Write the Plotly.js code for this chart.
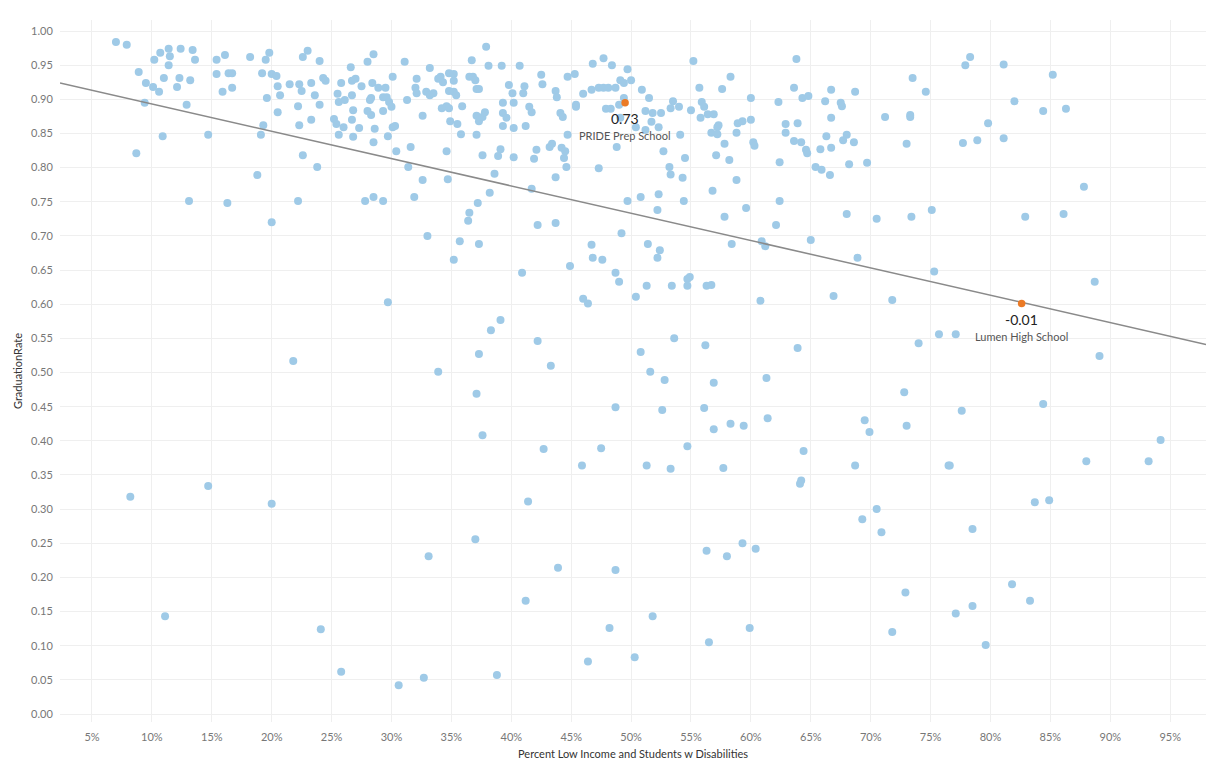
<!DOCTYPE html>
<html><head><meta charset="utf-8">
<script src="https://cdn.plot.ly/plotly-3.0.1.min.js"></script>
<style>html,body{margin:0;padding:0;background:#fff}</style>
</head><body><div id="chart" style="width:1206px;height:761px"></div>
<script>
// Percent low income & students w disabilities (x, in %) and graduation rate (y)
const pctA = [7.0,7.9,10.7,11.4,12.4,13.4,11.5,10.2,13.6,15.4,
16.1,18.2,19.8,19.5,23.0,22.6,24.0,11.4,8.9,15.4,
16.4,16.7,19.2,20.0,20.4,9.5,11.0,12.3,13.2,10.1,
10.6,12.1,15.9,16.7,20.5,21.5,22.3,23.3,24.3,24.5,
25.8,26.6,19.6,20.7,22.5,23.6,25.5,25.6,9.4,12.9,
22.2,24.0,20.5,23.3,22.3,25.2,25.4,10.9,14.7,19.1,
25.6,19.3,8.7,22.6,23.8,18.8,13.1,16.3,22.2,20.0];
const rateA = [.984,.980,.968,.974,.974,.972,.963,.958,.958,.958,
.965,.962,.968,.958,.971,.962,.956,.950,.940,.937,
.938,.938,.938,.937,.934,.924,.931,.931,.928,.918,
.911,.918,.911,.917,.919,.922,.922,.924,.931,.927,
.924,.947,.902,.906,.912,.906,.908,.896,.895,.892,
.890,.892,.881,.870,.862,.871,.864,.846,.848,.848,
.848,.862,.821,.818,.801,.789,.751,.748,.751,.720];

const pctB = [37.9,28.5,28.0,31.1,36.7,33.2,38.1,39.2,40.7,46.8,
47.7,48.4,49.7,30.1,32.1,33.9,34.1,34.3,34.8,35.2,
35.2,36.5,36.8,37.0,42.5,42.6,44.7,45.3,26.7,27.0,
28.4,27.5,28.9,29.5,32.0,32.1,32.9,33.2,33.5,34.8,
35.2,35.4,37.1,37.3,39.8,40.1,41.0,41.1,43.7,43.8,
46.0,46.7,47.3,47.7,48.1,48.7,49.1,49.4,26.1,26.7,
28.3,28.2,29.3,29.6,29.8,30.0,31.3,34.2,34.6,34.8,
35.9,39.3,40.2,41.5,41.7,45.4,45.4,47.9,48.3,49.0,
26.8,28.0,28.3,29.3,32.6,34.9,35.5,37.1,37.3,37.6,
37.8,39.3,39.6,39.3,40.2,41.2,44.1,44.3,26.7,26.0,
27.3,28.6,30.1,30.3,26.8,28.5,29.7,35.8,37.1,44.7,
30.4,31.6,34.6,37.6,39.1,38.9,40.2,42.1,41.9,43.2,
43.4,44.2,44.5,44.4,44.6,48.8,47.3,31.4,32.6,34.7,
38.6,43.7,31.9,38.2,41.7,49.7,27.8,28.5,29.3,37.2,
36.5,36.4,42.2,43.7,33.0,35.7,37.3,46.7];
const rateB = [.977,.966,.955,.955,.957,.946,.949,.949,.949,.952,
.960,.950,.944,.933,.930,.930,.933,.925,.938,.937,
.927,.933,.933,.928,.936,.922,.933,.937,.927,.930,
.924,.919,.917,.917,.917,.909,.911,.906,.909,.912,
.911,.906,.915,.915,.921,.909,.909,.919,.912,.903,
.908,.914,.917,.917,.917,.917,.928,.924,.899,.906,
.902,.899,.903,.903,.896,.889,.899,.887,.890,.887,
.890,.895,.895,.889,.881,.892,.889,.886,.886,.892,
.884,.883,.877,.883,.876,.868,.864,.876,.868,.874,
.881,.880,.873,.861,.858,.861,.880,.874,.870,.859,
.858,.857,.859,.861,.845,.837,.846,.849,.848,.848,
.824,.830,.824,.818,.827,.817,.815,.826,.813,.830,
.835,.829,.824,.814,.801,.830,.799,.801,.782,.783,
.791,.786,.757,.763,.769,.751,.751,.757,.751,.748,
.734,.722,.716,.719,.700,.692,.688,.687];

const pctC = [55.2,63.8,50.0,50.9,51.5,49.4,55.7,57.6,58.3,63.6,
66.7,68.7,60.0,64.3,64.8,66.2,67.5,67.6,62.3,71.2,
53.5,54.0,53.3,55.0,55.9,56.1,56.4,56.9,55.8,51.2,
51.8,52.5,51.7,52.3,50.4,51.2,49.1,57.3,57.2,56.7,
57.2,58.9,59.3,60.0,58.8,54.1,62.9,63.9,62.9,66.7,
66.3,68.0,67.7,68.6,66.7,65.8,63.6,64.2,64.6,64.7,
60.2,60.3,57.8,57.1,58.2,52.7,54.5,65.4,65.9,66.6,
68.2,69.7,62.4,53.2,53.3,54.3,58.8,56.8,52.3,50.8,
54.4,52.2,62.4,59.6,57.8,68.0,70.5,62.1,49.2,51.4,
52.4,58.4,60.9,61.2,65.0];
const rateC = [.956,.959,.928,.914,.902,.902,.917,.915,.933,.917,
.914,.911,.902,.902,.905,.897,.895,.890,.896,.874,
.897,.889,.887,.884,.896,.889,.878,.878,.873,.883,
.880,.880,.867,.859,.859,.855,.873,.862,.859,.851,
.849,.865,.868,.870,.851,.848,.864,.865,.851,.873,
.846,.848,.840,.837,.829,.827,.839,.837,.826,.821,
.837,.832,.835,.818,.811,.824,.814,.801,.797,.789,
.805,.807,.808,.801,.790,.785,.782,.766,.761,.757,
.751,.738,.751,.741,.728,.732,.725,.716,.704,.688,
.679,.688,.692,.685,.694];

const pctD = [78.3,77.9,81.1,85.2,73.5,74.6,82.0,84.4,86.3,73.3,
73.3,79.8,73.0,77.7,78.9,81.1,87.8,73.4,75.1,82.9,
86.1];
const rateD = [.962,.950,.951,.936,.931,.911,.897,.883,.886,.877,
.874,.865,.835,.836,.840,.843,.772,.728,.738,.728,
.732];

const pctE = [21.8,35.2,40.9,44.9,46.8,47.6,48.7,49.0,29.7,46.0,
46.4,39.1,38.3,42.2,37.3,43.3,33.9,37.1,48.7,37.6,
42.7,47.5,45.9,52.2,68.9,51.3,50.4,53.4,54.7,54.9,
54.7,56.3,56.7,60.8,66.9,71.8,53.6,50.8,56.2,63.9,
51.6,52.8,56.9,61.3,72.8,52.6,56.1,56.9,58.3,59.4,
61.4,69.5,69.9,73.0,54.7,51.3,53.3,57.7,64.4,68.7,
64.2,64.1,75.3,88.7,75.7,77.1,74.0,89.1,84.4,77.6,
94.2,88.0,93.2,76.5,76.6];
const rateE = [.517,.665,.646,.656,.668,.665,.646,.633,.603,.608,
.601,.577,.562,.546,.527,.510,.501,.469,.449,.408,
.388,.389,.364,.668,.668,.627,.611,.627,.637,.640,
.627,.627,.628,.605,.612,.606,.550,.530,.540,.536,
.501,.489,.485,.492,.471,.445,.448,.417,.425,.422,
.433,.430,.413,.422,.392,.364,.359,.360,.385,.364,
.342,.337,.648,.633,.556,.556,.543,.524,.454,.444,
.401,.370,.370,.364,.364];

const pctF = [8.2,14.7,20.0,11.1,24.1,25.8,41.4,37.0,33.1,43.9,
48.7,41.2,48.2,46.4,30.6,32.7,38.8,70.5,69.3,70.9,
59.3,56.3,60.4,58.0,72.9,51.8,59.9,71.8,56.5,50.3,
83.7,84.9,78.5,81.8,83.3,78.5,77.1,79.6];
const rateF = [.318,.334,.308,.143,.124,.062,.311,.256,.231,.214,
.211,.166,.126,.077,.042,.053,.057,.300,.285,.266,
.250,.239,.242,.231,.178,.143,.126,.120,.105,.083,
.310,.313,.271,.190,.166,.158,.147,.101];

// Highlighted schools
const highlightSchools = ['PRIDE Prep School', 'Lumen High School'];
const highlightPct = [49.5, 82.6];
const highlightRate = [0.895, 0.601];
const highlightValue = ['0.73', '-0.01'];

const xTicks = [5,10,15,20,25,30,35,40,45,50,55,60,65,70,75,80,85,90,95];
const xRange = [2.33, 97.99];
const yRange = [-0.0117, 1.0161];

const pct = [].concat(pctA, pctB, pctC, pctD, pctE, pctF);
const rate = [].concat(rateA, rateB, rateC, rateD, rateE, rateF);

// Linear trend line (least squares over all schools)
const allX = pct.concat(highlightPct), allY = rate.concat(highlightRate);
const n = allX.length;
const mx = allX.reduce((a,b)=>a+b,0)/n, my = allY.reduce((a,b)=>a+b,0)/n;
let sxy=0, sxx=0;
for (let i=0;i<n;i++){ sxy += (allX[i]-mx)*(allY[i]-my); sxx += (allX[i]-mx)**2; }
const slope = sxy/sxx, intercept = my - slope*mx;
const trendX = xRange.slice();
const trendY = trendX.map(v => intercept + slope*v);

const traces = [
  {type:'scatter', mode:'markers', x:pct, y:rate, hoverinfo:'skip',
   marker:{size:8, color:'#9fcae7', line:{width:0}}},
  {type:'scatter', mode:'lines', x:trendX, y:trendY, hoverinfo:'skip',
   line:{color:'#8a8a8a', width:1.5}},
  {type:'scatter', mode:'markers', x:highlightPct, y:highlightRate, text:highlightSchools, hoverinfo:'text',
   marker:{size:7.5, color:'#eb7a25', line:{width:0}}}
];

const annotations = [];
highlightSchools.forEach((s,i)=>{
  annotations.push({x:highlightPct[i], y:highlightRate[i], xref:'x', yref:'y', text:highlightValue[i],
    showarrow:false, yshift:-16, font:{size:14, color:'#222', family:'Lato, sans-serif'}});
  annotations.push({x:highlightPct[i], y:highlightRate[i], xref:'x', yref:'y', text:s,
    showarrow:false, yshift:-33, font:{size:11, color:'#555', family:'Lato, sans-serif'}});
});

const layout = {
  width:1206, height:761,
  margin:{l:60, r:0, t:20, b:39},
  paper_bgcolor:'#ffffff', plot_bgcolor:'#ffffff',
  font:{family:'Lato, sans-serif', size:11, color:'#666'},
  showlegend:false,
  xaxis:{range:xRange, tickmode:'array', tickvals:xTicks, ticktext:xTicks.map(v=>v+'%'),
    showgrid:true, gridcolor:'#efefef', gridwidth:1, zeroline:false, showline:false,
    ticks:'outside', ticklen:5, tickcolor:'rgba(0,0,0,0)',
    tickfont:{size:11, color:'#777'},
    title:{text:'Percent Low Income and Students w Disabilities', font:{size:11, color:'#333'}, standoff:8}},
  yaxis:{range:yRange, tickmode:'linear', tick0:0, dtick:0.05, tickformat:'.2f',
    showgrid:true, gridcolor:'#efefef', gridwidth:1, zeroline:false, showline:false,
    ticks:'outside', ticklen:4, tickcolor:'rgba(0,0,0,0)',
    tickfont:{size:11, color:'#777'},
    title:{text:'GraduationRate', font:{size:11, color:'#333'}, standoff:6}},
  annotations:annotations
};

Plotly.newPlot('chart', traces, layout, {displayModeBar:false, staticPlot:true});
</script>
</body></html>
